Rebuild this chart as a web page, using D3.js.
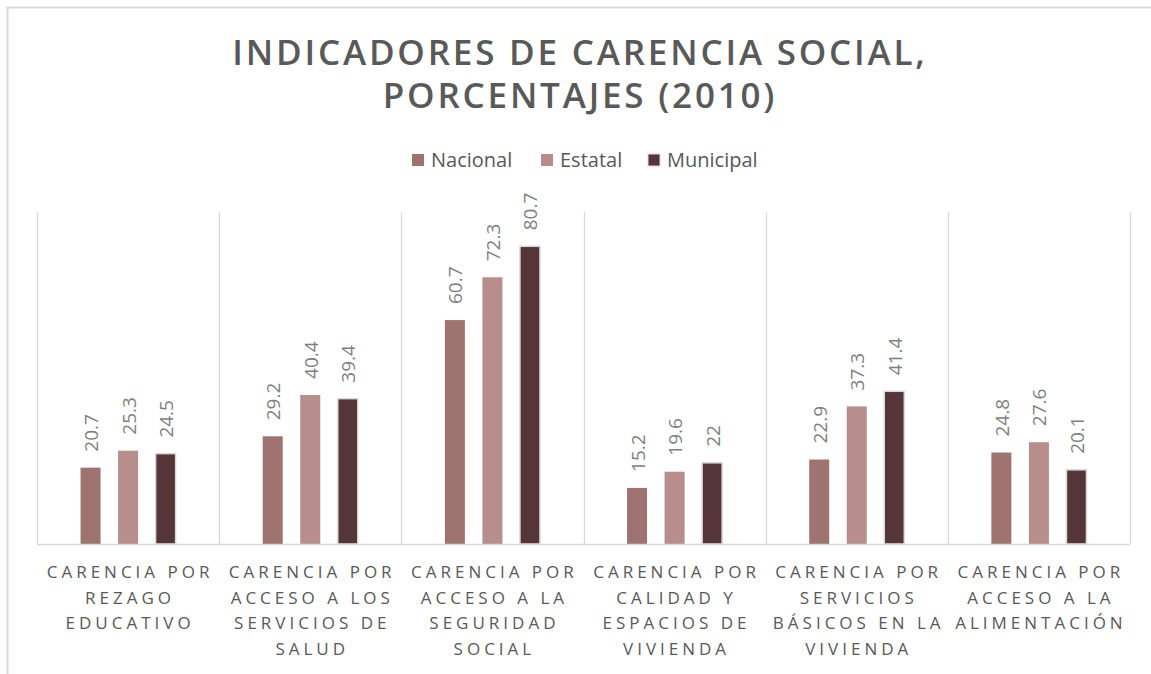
<!DOCTYPE html>
<html>
<head>
<meta charset="utf-8">
<script src="https://cdn.jsdelivr.net/npm/d3@7"></script>
<style>
  body { margin: 0; background: #fff; }
  svg { display: block; font-family: "Open Sans", sans-serif; }
</style>
</head>
<body>
<svg id="chart" width="1151" height="674"></svg>
<script>
// chart data
var categories = [
    ["CARENCIA POR", "REZAGO", "EDUCATIVO"],
    ["CARENCIA POR", "ACCESO A LOS", "SERVICIOS DE", "SALUD"],
    ["CARENCIA POR", "ACCESO A LA", "SEGURIDAD", "SOCIAL"],
    ["CARENCIA POR", "CALIDAD Y", "ESPACIOS DE", "VIVIENDA"],
    ["CARENCIA POR", "SERVICIOS", "BÁSICOS EN LA", "VIVIENDA"],
    ["CARENCIA POR", "ACCESO A LA", "ALIMENTACIÓN"]
];
var seriesNames = ["Nacional", "Estatal", "Municipal"];
var nacional = [20.7, 29.2, 60.7, 15.2, 22.9, 24.8];
var estatal = [25.3, 40.4, 72.3, 19.6, 37.3, 27.6];
var municipal = [24.5, 39.4, 80.7, 22, 41.4, 20.1];
var colors = ["#9e7370", "#b88e8c", "#553538"];

var series = [nacional, estatal, municipal];
var svg = d3.select('#chart');

// outer chart border (runs off the right and bottom edge)
svg.append('rect')
    .attr('x', 7.5).attr('y', 7.5)
    .attr('width', 1160).attr('height', 700)
    .attr('fill', '#fff')
    .attr('stroke', '#d9d9d9')
    .attr('stroke-width', 2);

var plotLeft = 37, plotRight = 1130, plotTop = 212, plotBottom = 544;

var x0 = d3.scaleBand()
    .domain(d3.range(categories.length))
    .range([plotLeft, plotRight]);
var x1 = d3.scaleBand()
    .domain(d3.range(seriesNames.length))
    .range([0, x0.bandwidth()])
    .paddingInner(0.467)
    .paddingOuter(1.16);
var y = d3.scaleLinear().domain([0, 90]).range([plotBottom, plotTop]);

// title
var title = svg.append('text')
    .attr('text-anchor', 'middle')
    .attr('fill', '#595959')
    .style('font-size', '35px')
    .style('font-weight', 600)
    .style('letter-spacing', '2.8px');
title.append('tspan').attr('x', 580).attr('y', 65).text('INDICADORES DE CARENCIA SOCIAL,');
title.append('tspan').attr('x', 580).attr('y', 108).text('PORCENTAJES (2010)');

// legend
var legendX = [412, 541, 648];
var legend = svg.selectAll('.legend')
    .data(seriesNames)
    .enter().append('g')
    .attr('class', 'legend')
    .attr('transform', function (d, i) { return 'translate(' + legendX[i] + ',160)'; });
legend.append('rect')
    .attr('x', 0).attr('y', -6)
    .attr('width', 12).attr('height', 12)
    .attr('fill', function (d, i) { return colors[i]; })
    .attr('stroke', function (d, i) { return i === 2 ? '#d9d9d9' : 'none'; });
legend.append('text')
    .attr('x', 19).attr('y', 7)
    .attr('fill', '#595959')
    .style('font-size', '20px')
    .text(function (d) { return d; });

// vertical category separators
svg.selectAll('.sep')
    .data(d3.range(categories.length + 1))
    .enter().append('line')
    .attr('x1', function (d) { return Math.round(plotLeft + d * x0.bandwidth()) + 0.5; })
    .attr('x2', function (d) { return Math.round(plotLeft + d * x0.bandwidth()) + 0.5; })
    .attr('y1', plotTop).attr('y2', plotBottom)
    .attr('stroke', '#d9d9d9').attr('stroke-width', 1.3);

// bars
var groups = svg.selectAll('.grp')
    .data(categories)
    .enter().append('g')
    .attr('transform', function (d, i) { return 'translate(' + x0(i) + ',0)'; });

groups.each(function (d, ci) {
    var g = d3.select(this);
    series.forEach(function (s, si) {
        var v = s[ci];
        g.append('rect')
            .attr('x', x1(si))
            .attr('y', y(v))
            .attr('width', x1.bandwidth())
            .attr('height', plotBottom - y(v))
            .attr('fill', colors[si])
            .attr('stroke', si === 2 ? '#d9d9d9' : 'none')
            .attr('stroke-width', 1.5);
        var lx = x1(si) + x1.bandwidth() / 2 + 7.5, ly = y(v) - 16;
        g.append('text')
            .attr('transform', 'translate(' + lx + ',' + ly + ') rotate(-90)')
            .attr('fill', '#7f7f7f')
            .style('font-size', '19px')
            .text(v);
    });
});

// baseline
svg.append('line')
    .attr('x1', plotLeft).attr('x2', plotRight)
    .attr('y1', plotBottom + 0.5).attr('y2', plotBottom + 0.5)
    .attr('stroke', '#d9d9d9').attr('stroke-width', 1.5);

// category labels
groups.append('text')
    .attr('text-anchor', 'middle')
    .attr('fill', '#595959')
    .style('font-size', '17px')
    .style('letter-spacing', '4px')
    .selectAll('tspan')
    .data(function (d) { return d; })
    .enter().append('tspan')
    .attr('x', x0.bandwidth() / 2 + 2)
    .attr('y', function (d, i) { return 578 + i * 25.5; })
    .text(function (d) { return d; });
</script>
</body>
</html>
